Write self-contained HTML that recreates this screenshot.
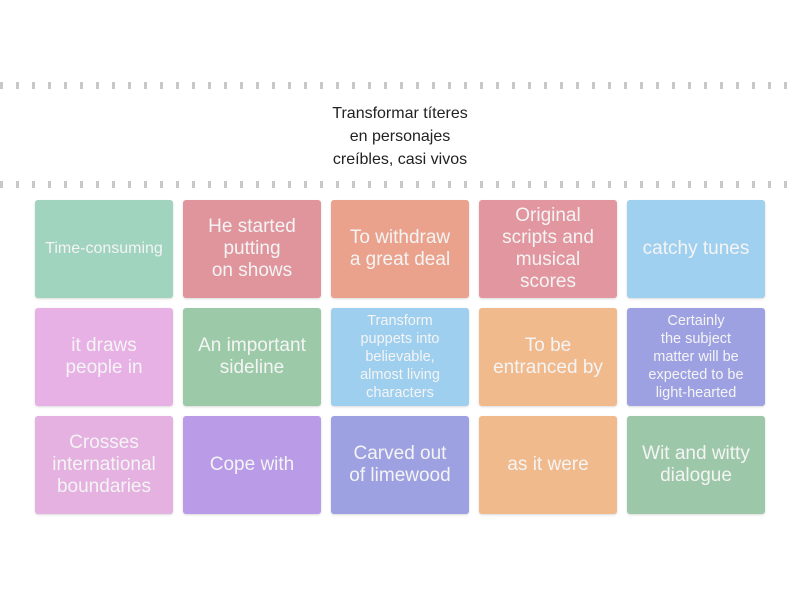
<!DOCTYPE html><html><head><meta charset="utf-8"><style>
body{margin:0;width:800px;height:600px;background:#fff;font-family:"Liberation Sans","DejaVu Sans",sans-serif;position:relative;overflow:hidden}
.d{position:absolute;left:0;width:800px;height:7px;background:repeating-linear-gradient(90deg,#c8c8c8 0 3px,transparent 3px 16px)}
.t{position:absolute;left:250px;width:300px;top:102px;text-align:center;font-size:16px;line-height:23px;color:#222}
.b{position:absolute;width:138px;height:98px;border-radius:3px;display:flex;align-items:center;justify-content:center;text-align:center;color:#f4f4f4;font-size:19px;line-height:22px;box-shadow:0 1px 2px rgba(0,0,0,.15)}
.s{font-size:14.5px;line-height:18px}
</style></head><body>
<div class="d" style="top:82px"></div>
<div class="t">Transformar títeres<br>en personajes<br>creíbles, casi vivos</div>
<div class="d" style="top:181px"></div>

<div class="b s" style="left:35px;top:200px;background:#a0d4bf;font-size:16px">Time-consuming</div>
<div class="b" style="left:183px;top:200px;background:#e0959d">He started<br>putting<br>on shows</div>
<div class="b" style="left:331px;top:200px;background:#eba28c">To withdraw<br>a great deal</div>
<div class="b" style="left:479px;top:200px;background:#e2969f">Original<br>scripts and<br>musical<br>scores</div>
<div class="b" style="left:627px;top:200px;background:#a0d0ef">catchy tunes</div>

<div class="b" style="left:35px;top:308px;background:#e7b1e6">it draws<br>people in</div>
<div class="b" style="left:183px;top:308px;background:#9ccaa8">An important<br>sideline</div>
<div class="b s" style="left:331px;top:308px;background:#9ecfef">Transform<br>puppets into<br>believable,<br>almost living<br>characters</div>
<div class="b" style="left:479px;top:308px;background:#f1ba8d">To be<br>entranced by</div>
<div class="b s" style="left:627px;top:308px;background:#9da1e2">Certainly<br>the subject<br>matter will be<br>expected to be<br>light-hearted</div>

<div class="b" style="left:35px;top:416px;background:#e4b1e1">Crosses<br>international<br>boundaries</div>
<div class="b" style="left:183px;top:416px;background:#b99be8">Cope with</div>
<div class="b" style="left:331px;top:416px;background:#9da1e2">Carved out<br>of limewood</div>
<div class="b" style="left:479px;top:416px;background:#f1ba8d">as it were</div>
<div class="b" style="left:627px;top:416px;background:#9cc7a8">Wit and witty<br>dialogue</div>
</body></html>
